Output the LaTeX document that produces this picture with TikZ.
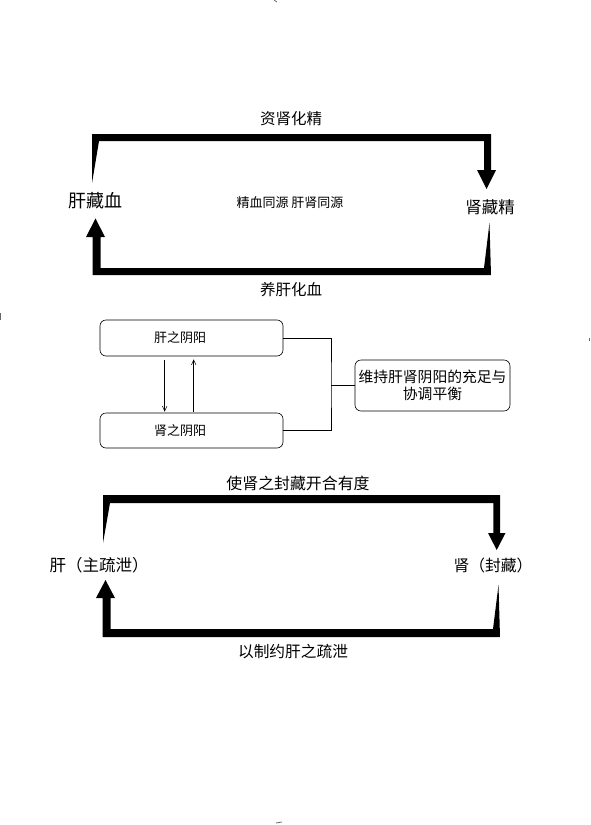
\documentclass[tikz,border=0pt]{standalone}
\usepackage{fontspec}
\newfontfamily\cjk{Noto Sans CJK SC}
\usetikzlibrary{arrows.meta}
\tikzset{
  lbl/.style={inner sep=0pt, font=\cjk\fontsize{#1}{#1}\selectfont},
  roundbox/.style={draw, line width=0.6pt, rounded corners=6pt, inner sep=1pt,
    font=\cjk\fontsize{13}{15}\selectfont},
  thinarrow/.style={line width=0.5pt, -{Straight Barb[length=5pt,width=4.5pt]}},
  thinline/.style={line width=0.6pt},
  bigarrow/.style={fill=black},
  speck/.style={line width=0.8pt, black!60}
}
\begin{document}
\begin{tikzpicture}[x=1pt,y=-1pt]
\useasboundingbox (0,0) rectangle (590,825);
\fill[white] (0,0) rectangle (590,825);

% ---------- top cycle ----------
\node[lbl=15.5] (t1) at (291,119) {资肾化精};
\node[lbl=18]   (gan1) at (95,201) {肝藏血};
\node[lbl=13]   (mid) at (290,203) {精血同源 肝肾同源};
\node[lbl=16.5] (shen1) at (490,207) {肾藏精};
\node[lbl=15.5] (b1) at (291,290) {养肝化血};

\coordinate (ga) at (92,183);
\coordinate (sa) at (489.5,223);
\fill[bigarrow] (ga) -- (92,134) -- (491,134) -- (491,170) -- (496,170) -- (486.5,189)
  -- (477,170) -- (484,170) -- (484,141) -- (99,141) -- cycle;
\fill[bigarrow] (sa) -- (491,275) -- (92.7,275) -- (92.7,237) -- (86,237) -- (95.5,218.5)
  -- (105,237) -- (100.7,237) -- (100.7,268) -- (484,268) -- cycle;

% ---------- middle boxes ----------
\node[roundbox, minimum width=183pt, minimum height=36pt] (ganyy) at (191.5,338) {肝之阴阳\hspace*{23pt}};
\node[roundbox, minimum width=183pt, minimum height=35pt] (shenyy) at (191.5,430.5) {肾之阴阳\hspace*{23pt}};
\node[roundbox, minimum width=155pt, minimum height=51pt, align=center,
      font=\cjk\fontsize{14.8}{17}\selectfont] (res) at (432.5,385.5) {维持肝肾阴阳的充足与\\协调平衡};

\draw[thinarrow] ([xshift=65pt,yshift=-4pt]ganyy.south west) -- ([xshift=65pt,yshift=1pt]shenyy.north west);
\draw[thinarrow] ([xshift=94pt,yshift=1pt]shenyy.north west) -- ([xshift=94pt,yshift=-3pt]ganyy.south west);

\coordinate (jx) at (331,385.5);
\draw[thinline] (ganyy.east) -| (jx) |- (shenyy.east);
\draw[thinline] (res.west) -- (jx);

% ---------- bottom cycle ----------
\node[lbl=15.9] (t2) at (298,483) {使肾之封藏开合有度};
\node[lbl=16.5] (gan2) at (99,565) {肝（主疏泄）};
\node[lbl=15.8] (shen2) at (493,565) {肾（封藏）};
\node[lbl=15.7] (b2) at (293,652) {以制约肝之疏泄};

\coordinate (gb) at (103,543);
\coordinate (sb) at (498.5,585);
\fill[bigarrow] (gb) -- (103,495) -- (500,495) -- (500,533) -- (505.5,533) -- (496.7,550)
  -- (488,533) -- (493.3,533) -- (493.3,503) -- (110,503) -- cycle;
\fill[bigarrow] (sb) -- (500,637) -- (102.7,637) -- (102.7,598) -- (96,598) -- (105.5,580)
  -- (115,598) -- (110.7,598) -- (110.7,629) -- (493,629) -- cycle;

% ---------- scan specks ----------
\draw[speck] (274,0) -- (277,2);
\draw[speck] (0.5,313) -- (0.5,320);
\draw[speck] (589.5,338) -- (589.5,341);
\draw[speck] (276,823) -- (282,822);
\end{tikzpicture}
\end{document}
